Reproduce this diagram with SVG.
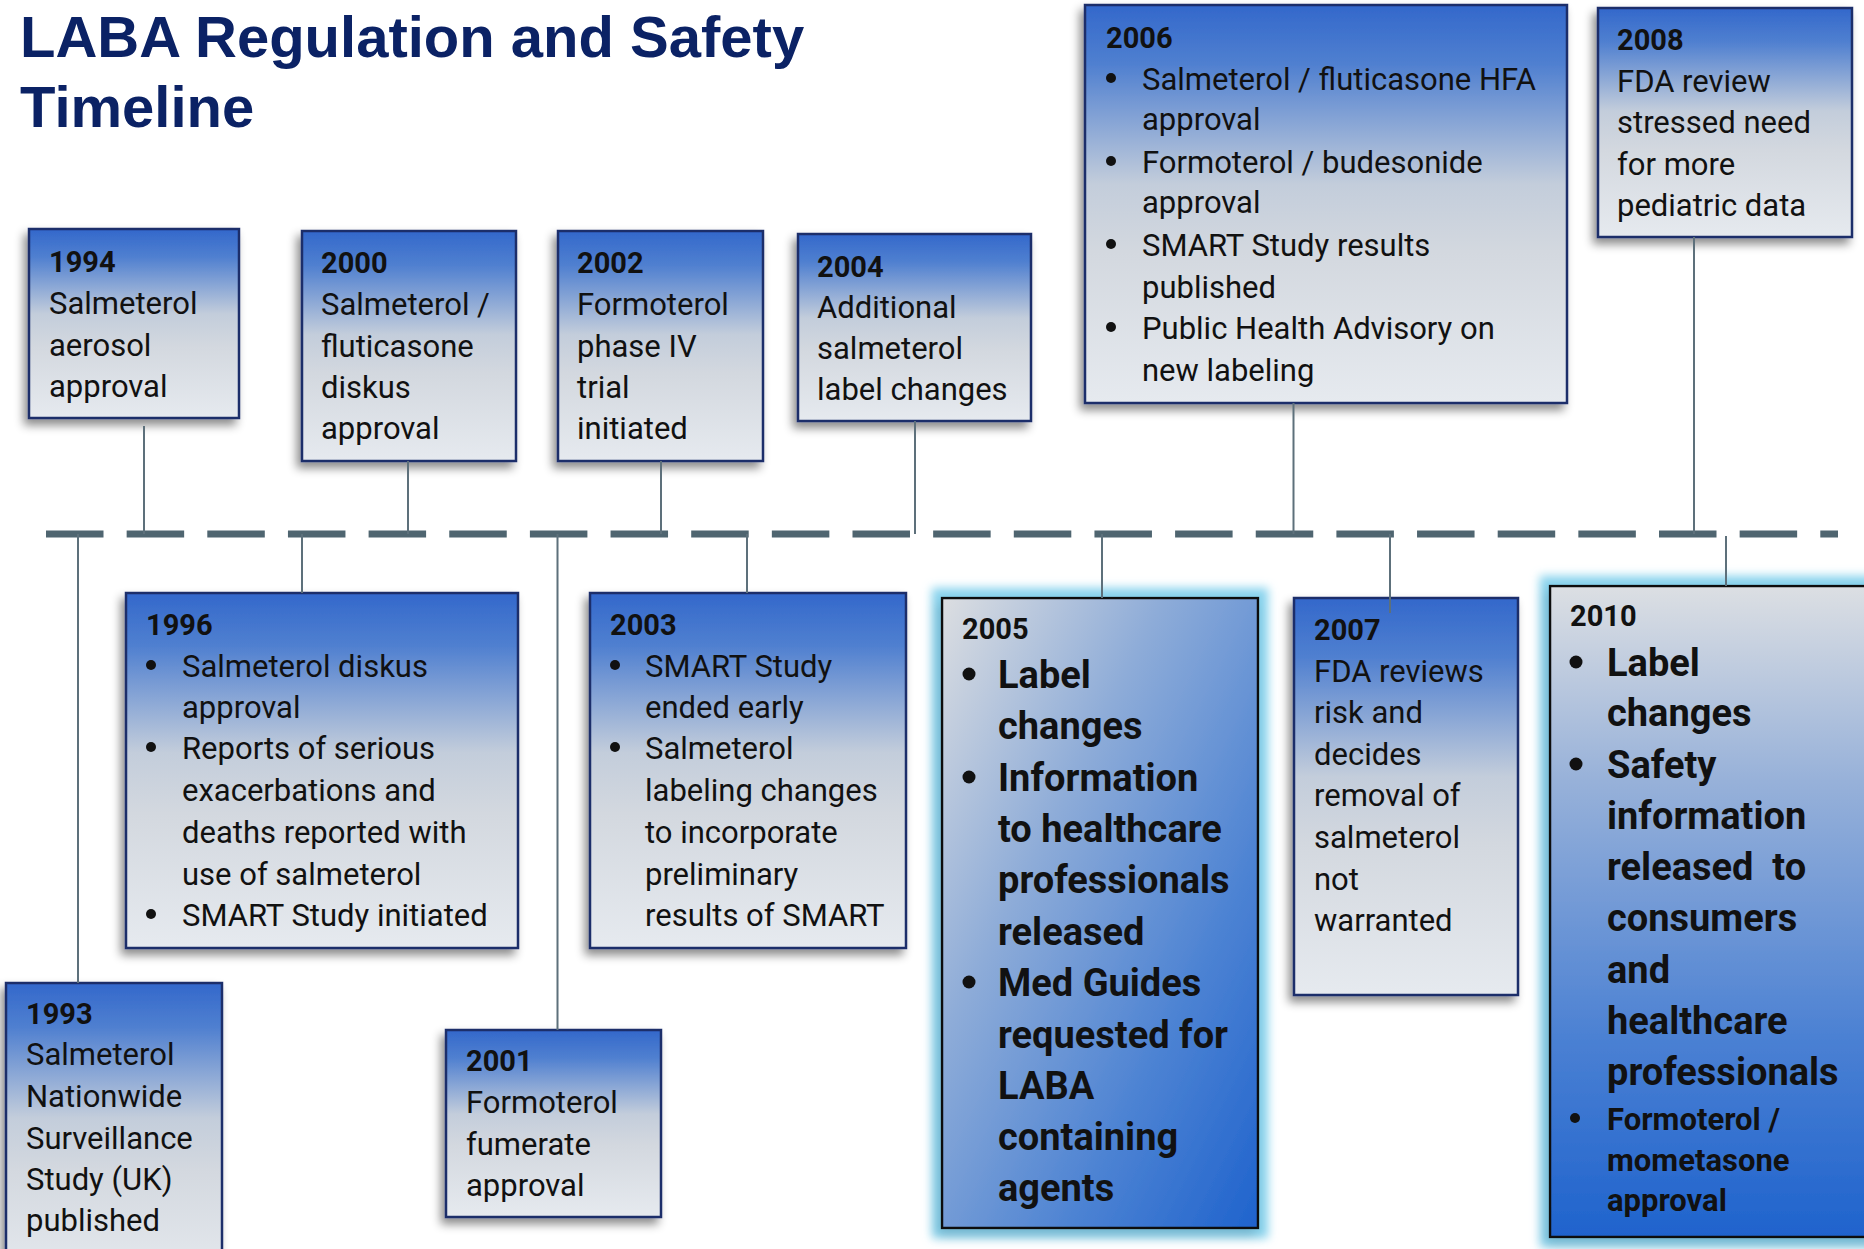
<svg xmlns="http://www.w3.org/2000/svg" width="1864" height="1249" viewBox="0 0 1864 1249">
<defs>
<style>
.t{font-family:Roboto,"Liberation Sans",sans-serif;font-size:31px;fill:#111}
.y{font-family:Roboto,"Liberation Sans",sans-serif;font-size:29px;font-weight:bold;fill:#111}
.b{font-family:Roboto,"Liberation Sans",sans-serif;font-size:38px;font-weight:bold;fill:#111}
.bs{font-family:Roboto,"Liberation Sans",sans-serif;font-size:31px;font-weight:bold;fill:#111}
.title{font-family:"Liberation Sans",Arial,sans-serif;font-size:58px;font-weight:bold;fill:#0b2265}
.box{stroke:#1b2f6b;stroke-width:2.5}
.gbox{stroke:#111;stroke-width:2.5}
.c{stroke:#5d707b;stroke-width:2;fill:none}
.dot{fill:#111}
</style>
<linearGradient id="gTop" x1="0" y1="0" x2="0" y2="1">
<stop offset="0" stop-color="#3368cb"/>
<stop offset="0.15" stop-color="#5080d0"/>
<stop offset="0.45" stop-color="#c3cddb"/>
<stop offset="0.62" stop-color="#d3d8df"/>
<stop offset="1" stop-color="#e6eaef"/>
</linearGradient>
<linearGradient id="g2005" x1="0" y1="0" x2="1" y2="1">
<stop offset="0" stop-color="#dcdee1"/>
<stop offset="0.35" stop-color="#8eacd8"/>
<stop offset="0.7" stop-color="#4d83d3"/>
<stop offset="1" stop-color="#1f63cd"/>
</linearGradient>
<linearGradient id="g2010" x1="0" y1="0" x2="0" y2="1">
<stop offset="0" stop-color="#dcdfe3"/>
<stop offset="0.3" stop-color="#97b1d9"/>
<stop offset="0.7" stop-color="#4a80d3"/>
<stop offset="1" stop-color="#1f63cd"/>
</linearGradient>
<filter id="sh" x="-20%" y="-20%" width="140%" height="140%">
<feDropShadow dx="-4" dy="6" stdDeviation="5" flood-color="#000" flood-opacity="0.45"/>
</filter>
<filter id="glow" x="-20%" y="-20%" width="140%" height="140%">
<feMorphology in="SourceAlpha" operator="dilate" radius="9" result="d"/>
<feGaussianBlur in="d" stdDeviation="5" result="bl"/>
<feFlood flood-color="#8ad4ee" result="c"/>
<feComposite in="c" in2="bl" operator="in" result="g"/>
<feOffset in="SourceAlpha" dx="-3" dy="6" result="o"/>
<feGaussianBlur in="o" stdDeviation="6" result="ob"/>
<feFlood flood-color="#1a4a66" flood-opacity="0.35" result="sc"/>
<feComposite in="sc" in2="ob" operator="in" result="s"/>
<feMerge><feMergeNode in="g"/><feMergeNode in="s"/><feMergeNode in="SourceGraphic"/></feMerge>
</filter>
</defs>
<rect width="1864" height="1249" fill="#fff"/>

<g id="title">
<text class="title" x="20" y="57">LABA Regulation and Safety</text>
<text class="title" x="20" y="127">Timeline</text>
</g>

<g id="timeline">
<line x1="46" y1="534" x2="1838" y2="534" stroke="#4f6570" stroke-width="7" stroke-dasharray="57.5 23.15"/>
</g>

<g id="n1994">
<rect class="box" x="29" y="229" width="210" height="189" fill="url(#gTop)" filter="url(#sh)"/>
<text class="y" x="49" y="272">1994</text>
<text class="t" x="49" y="314">Salmeterol</text>
<text class="t" x="49" y="356">aerosol</text>
<text class="t" x="49" y="397">approval</text>
</g>

<g id="n2000">
<rect class="box" x="302" y="231" width="214" height="230" fill="url(#gTop)" filter="url(#sh)"/>
<text class="y" x="321" y="273">2000</text>
<text class="t" x="321" y="315">Salmeterol /</text>
<text class="t" x="321" y="357">fluticasone</text>
<text class="t" x="321" y="398">diskus</text>
<text class="t" x="321" y="439">approval</text>
</g>

<g id="n2002">
<rect class="box" x="558" y="231" width="205" height="230" fill="url(#gTop)" filter="url(#sh)"/>
<text class="y" x="577" y="273">2002</text>
<text class="t" x="577" y="315">Formoterol</text>
<text class="t" x="577" y="357">phase IV</text>
<text class="t" x="577" y="398">trial</text>
<text class="t" x="577" y="439">initiated</text>
</g>

<g id="n2004">
<rect class="box" x="798" y="234" width="233" height="187" fill="url(#gTop)" filter="url(#sh)"/>
<text class="y" x="817" y="277">2004</text>
<text class="t" x="817" y="318">Additional</text>
<text class="t" x="817" y="359">salmeterol</text>
<text class="t" x="817" y="400">label changes</text>
</g>

<g id="n2006">
<rect class="box" x="1085" y="5" width="482" height="398" fill="url(#gTop)" filter="url(#sh)"/>
<text class="y" x="1106" y="48">2006</text>
<circle class="dot" cx="1111" cy="78" r="5"/>
<circle class="dot" cx="1111" cy="161" r="5"/>
<circle class="dot" cx="1111" cy="244" r="5"/>
<circle class="dot" cx="1111" cy="327" r="5"/>
<text class="t" x="1142" y="90">Salmeterol / fluticasone HFA</text>
<text class="t" x="1142" y="130">approval</text>
<text class="t" x="1142" y="173">Formoterol / budesonide</text>
<text class="t" x="1142" y="213">approval</text>
<text class="t" x="1142" y="256">SMART Study results</text>
<text class="t" x="1142" y="298">published</text>
<text class="t" x="1142" y="339">Public Health Advisory on</text>
<text class="t" x="1142" y="381">new labeling</text>
</g>

<g id="n2008">
<rect class="box" x="1598" y="8" width="254" height="229" fill="url(#gTop)" filter="url(#sh)"/>
<text class="y" x="1617" y="50">2008</text>
<text class="t" x="1617" y="92">FDA review</text>
<text class="t" x="1617" y="133">stressed need</text>
<text class="t" x="1617" y="175">for more</text>
<text class="t" x="1617" y="216">pediatric data</text>
</g>

<g id="n1996">
<rect class="box" x="126" y="593" width="392" height="355" fill="url(#gTop)" filter="url(#sh)"/>
<text class="y" x="146" y="635">1996</text>
<circle class="dot" cx="151" cy="665" r="5"/>
<circle class="dot" cx="151" cy="747" r="5"/>
<circle class="dot" cx="151" cy="914" r="5"/>
<text class="t" x="182" y="677">Salmeterol diskus</text>
<text class="t" x="182" y="718">approval</text>
<text class="t" x="182" y="759">Reports of serious</text>
<text class="t" x="182" y="801">exacerbations and</text>
<text class="t" x="182" y="843">deaths reported with</text>
<text class="t" x="182" y="885">use of salmeterol</text>
<text class="t" x="182" y="926">SMART Study initiated</text>
</g>

<g id="n2003">
<rect class="box" x="590" y="593" width="316" height="355" fill="url(#gTop)" filter="url(#sh)"/>
<text class="y" x="610" y="635">2003</text>
<circle class="dot" cx="615" cy="665" r="5"/>
<circle class="dot" cx="615" cy="747" r="5"/>
<text class="t" x="645" y="677">SMART Study</text>
<text class="t" x="645" y="718">ended early</text>
<text class="t" x="645" y="759">Salmeterol</text>
<text class="t" x="645" y="801">labeling changes</text>
<text class="t" x="645" y="843">to incorporate</text>
<text class="t" x="645" y="885">preliminary</text>
<text class="t" x="645" y="926">results of SMART</text>
</g>

<g id="n1993">
<rect class="box" x="6" y="983" width="216" height="300" fill="url(#gTop)" filter="url(#sh)"/>
<text class="y" x="26" y="1024">1993</text>
<text class="t" x="26" y="1065">Salmeterol</text>
<text class="t" x="26" y="1107">Nationwide</text>
<text class="t" x="26" y="1149">Surveillance</text>
<text class="t" x="26" y="1190">Study (UK)</text>
<text class="t" x="26" y="1231">published</text>
</g>

<g id="n2001">
<rect class="box" x="446" y="1030" width="215" height="187" fill="url(#gTop)" filter="url(#sh)"/>
<text class="y" x="466" y="1071">2001</text>
<text class="t" x="466" y="1113">Formoterol</text>
<text class="t" x="466" y="1155">fumerate</text>
<text class="t" x="466" y="1196">approval</text>
</g>

<g id="n2005">
<rect class="gbox" x="942" y="598" width="316" height="630" fill="url(#g2005)" filter="url(#glow)"/>
<text class="y" x="962" y="639">2005</text>
<circle class="dot" cx="969" cy="674" r="6.5"/>
<circle class="dot" cx="969" cy="777" r="6.5"/>
<circle class="dot" cx="969" cy="982" r="6.5"/>
<text class="b" x="998" y="688">Label</text>
<text class="b" x="998" y="739">changes</text>
<text class="b" x="998" y="791">Information</text>
<text class="b" x="998" y="842">to healthcare</text>
<text class="b" x="998" y="893">professionals</text>
<text class="b" x="998" y="945">released</text>
<text class="b" x="998" y="996">Med Guides</text>
<text class="b" x="998" y="1048">requested for</text>
<text class="b" x="998" y="1099">LABA</text>
<text class="b" x="998" y="1150">containing</text>
<text class="b" x="998" y="1201">agents</text>
</g>

<g id="n2007">
<rect class="box" x="1294" y="598" width="224" height="397" fill="url(#gTop)" filter="url(#sh)"/>
<text class="y" x="1314" y="640">2007</text>
<text class="t" x="1314" y="682">FDA reviews</text>
<text class="t" x="1314" y="723">risk and</text>
<text class="t" x="1314" y="765">decides</text>
<text class="t" x="1314" y="806">removal of</text>
<text class="t" x="1314" y="848">salmeterol</text>
<text class="t" x="1314" y="890">not</text>
<text class="t" x="1314" y="931">warranted</text>
</g>

<g id="n2010">
<rect class="gbox" x="1550" y="586" width="330" height="651" fill="url(#g2010)" filter="url(#glow)"/>
<text class="y" x="1570" y="626">2010</text>
<circle class="dot" cx="1576" cy="662" r="6.5"/>
<circle class="dot" cx="1576" cy="764" r="6.5"/>
<circle class="dot" cx="1575" cy="1118" r="5"/>
<text class="b" x="1607" y="676">Label</text>
<text class="b" x="1607" y="726">changes</text>
<text class="b" x="1607" y="778">Safety</text>
<text class="b" x="1607" y="829">information</text>
<text class="b" x="1607" y="880">released&#160; to</text>
<text class="b" x="1607" y="931">consumers</text>
<text class="b" x="1607" y="983">and</text>
<text class="b" x="1607" y="1034">healthcare</text>
<text class="b" x="1607" y="1085">professionals</text>
<text class="bs" x="1607" y="1130">Formoterol /</text>
<text class="bs" x="1607" y="1171">mometasone</text>
<text class="bs" x="1607" y="1211">approval</text>
</g>

<g id="connectors">
<line class="c" x1="144" y1="426" x2="144" y2="534"/>
<line class="c" x1="408" y1="461" x2="408" y2="534"/>
<line class="c" x1="661" y1="461" x2="661" y2="534"/>
<line class="c" x1="915" y1="421" x2="915" y2="534"/>
<line class="c" x1="1293.5" y1="403" x2="1293.5" y2="534"/>
<line class="c" x1="1694" y1="237" x2="1694" y2="534"/>
<line class="c" x1="78" y1="534" x2="78" y2="983"/>
<line class="c" x1="302" y1="534" x2="302" y2="593"/>
<line class="c" x1="557.5" y1="534" x2="557.5" y2="1030"/>
<line class="c" x1="747" y1="534" x2="747" y2="593"/>
<line class="c" x1="1102" y1="534" x2="1102" y2="598"/>
<line class="c" x1="1390" y1="534" x2="1390" y2="613"/>
<line class="c" x1="1726" y1="536" x2="1726" y2="586"/>
</g>
</svg>
